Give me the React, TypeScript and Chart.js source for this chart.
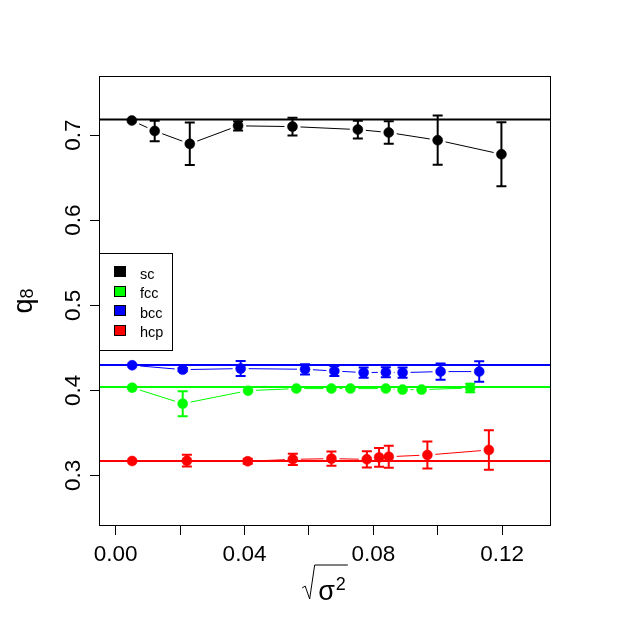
import { useEffect, useRef } from "react";
import { Chart, registerables } from "chart.js";

Chart.register(...registerables);

// ---------- data ----------
const seriesNames = ["sc", "fcc", "bcc", "hcp"];
const seriesColors = ["#000000", "#00FF00", "#0000FF", "#FF0000"];

const scX = [0.005, 0.0121, 0.023, 0.038, 0.0549, 0.0752, 0.0848, 0.1, 0.1198];
const scY = [0.7172, 0.705, 0.6898, 0.711, 0.7101, 0.7066, 0.7031, 0.6941, 0.6776];
const scErr = [0, 0.012, 0.025, 0.0055, 0.0104, 0.0104, 0.0133, 0.029, 0.0376];

const fccX = [0.0051, 0.0208, 0.0411, 0.0561, 0.067, 0.0729, 0.0839, 0.0891, 0.095, 0.1101];
const fccY = [0.4031, 0.3843, 0.3996, 0.402, 0.402, 0.402, 0.402, 0.4008, 0.4008, 0.4027];
const fccErr = [0, 0.0147, 0, 0, 0, 0, 0, 0, 0, 0.005];

const bccX = [0.0051, 0.0208, 0.0388, 0.0588, 0.0679, 0.077, 0.0839, 0.0891, 0.1009, 0.1129];
const bccY = [0.4294, 0.4243, 0.4255, 0.4247, 0.4227, 0.4208, 0.4212, 0.4208, 0.422, 0.422];
const bccErr = [0, 0.002, 0.0088, 0.006, 0.006, 0.006, 0.006, 0.006, 0.0096, 0.012];

const hcpX = [0.0051, 0.0221, 0.041, 0.055, 0.067, 0.078, 0.0818, 0.0848, 0.0968, 0.1159];
const hcpY = [0.3168, 0.3172, 0.3165, 0.3188, 0.3196, 0.3188, 0.3211, 0.3219, 0.3239, 0.3298];
const hcpErr = [0, 0.0069, 0.003, 0.0066, 0.0084, 0.0096, 0.011, 0.0129, 0.0159, 0.0233];

const referenceLevels = [0.7184, 0.4039, 0.4298, 0.3168];

const xLimits = [0, 0.13];
const yLimits = [0.26, 0.75];
const xTickValues = [0, 0.02, 0.04, 0.06, 0.08, 0.1, 0.12];
const xTickLabels = ["0.00", "", "0.04", "", "0.08", "", "0.12"];
const yTickValues = [0.3, 0.4, 0.5, 0.6, 0.7];
const yTickLabels = ["0.3", "0.4", "0.5", "0.6", "0.7"];

const allX = [scX, fccX, bccX, hcpX];
const allY = [scY, fccY, bccY, hcpY];
const allErr = [scErr, fccErr, bccErr, hcpErr];

const FONT = "'Liberation Sans', Arial, Helvetica, sans-serif";

function extend(lim: number[]) {
  const r = lim[1] - lim[0];
  return [lim[0] - 0.04 * r, lim[1] + 0.04 * r];
}

const rPlotPlugin = {
  id: "rPlot",
  beforeDraw(chart: any) {
    const ctx = chart.ctx;
    ctx.save();
    ctx.fillStyle = "#ffffff";
    ctx.fillRect(0, 0, chart.width, chart.height);
    ctx.restore();
  },
  beforeDatasetsDraw(chart: any) {
    const ctx = chart.ctx;
    const area = chart.chartArea;
    const ys = chart.scales.y;
    ctx.save();
    ctx.beginPath();
    ctx.rect(area.left, area.top, area.right - area.left, area.bottom - area.top);
    ctx.clip();
    // reference levels (abline)
    referenceLevels.forEach((lvl, i) => {
      const py = ys.getPixelForValue(lvl);
      ctx.strokeStyle = seriesColors[i];
      ctx.lineWidth = 2;
      ctx.beginPath();
      ctx.moveTo(area.left, py);
      ctx.lineTo(area.right, py);
      ctx.stroke();
    });
    // type = "b" connecting lines with gaps
    const gap = 8;
    chart.data.datasets.forEach((ds: any, i: number) => {
      const meta = chart.getDatasetMeta(i);
      const pts = meta.data;
      ctx.strokeStyle = seriesColors[i];
      ctx.lineWidth = 1;
      for (let j = 0; j < pts.length - 1; j++) {
        const a = pts[j];
        const b = pts[j + 1];
        const dx = b.x - a.x;
        const dy = b.y - a.y;
        const d = Math.hypot(dx, dy);
        if (d <= 2 * gap) continue;
        const ux = dx / d;
        const uy = dy / d;
        ctx.beginPath();
        ctx.moveTo(a.x + ux * gap, a.y + uy * gap);
        ctx.lineTo(b.x - ux * gap, b.y - uy * gap);
        ctx.stroke();
      }
    });
    ctx.restore();
  },
  afterDatasetsDraw(chart: any) {
    const ctx = chart.ctx;
    const xs = chart.scales.x;
    const ys = chart.scales.y;
    ctx.save();
    ctx.lineWidth = 2;
    allErr.forEach((errs, i) => {
      ctx.strokeStyle = seriesColors[i];
      errs.forEach((e, j) => {
        const px = xs.getPixelForValue(allX[i][j]);
        const top = ys.getPixelForValue(allY[i][j] + e);
        const bot = ys.getPixelForValue(allY[i][j] - e);
        if (Math.abs(bot - top) < 1) return;
        const cap = 5;
        ctx.beginPath();
        ctx.moveTo(px, top);
        ctx.lineTo(px, bot);
        ctx.moveTo(px - cap, top);
        ctx.lineTo(px + cap, top);
        ctx.moveTo(px - cap, bot);
        ctx.lineTo(px + cap, bot);
        ctx.stroke();
      });
    });
    ctx.restore();
  },
  afterDraw(chart: any) {
    const ctx = chart.ctx;
    const area = chart.chartArea;
    const xs = chart.scales.x;
    const ys = chart.scales.y;
    ctx.save();
    // box
    ctx.strokeStyle = "#000";
    ctx.lineWidth = 1;
    ctx.strokeRect(Math.round(area.left) + 0.5, Math.round(area.top) + 0.5,
      Math.round(area.right - area.left) - 1, Math.round(area.bottom - area.top) - 1);

    // x tick labels
    ctx.fillStyle = "#000";
    ctx.font = `22.5px ${FONT}`;
    ctx.textAlign = "center";
    ctx.textBaseline = "alphabetic";
    xTickValues.forEach((v, k) => {
      const lab = xTickLabels[k];
      if (!lab) return;
      ctx.fillText(lab, xs.getPixelForValue(v), area.bottom + 35);
    });
    // y tick labels (rotated)
    yTickValues.forEach((v, k) => {
      const py = ys.getPixelForValue(v);
      ctx.save();
      ctx.translate(area.left - 19, py);
      ctx.rotate(-Math.PI / 2);
      ctx.textAlign = "center";
      ctx.fillText(yTickLabels[k], 0, 0);
      ctx.restore();
    });

    // y title q_8
    const cy = (area.top + area.bottom) / 2;
    ctx.save();
    ctx.font = `27px ${FONT}`;
    const wq = ctx.measureText("q").width;
    ctx.font = `18px ${FONT}`;
    const w8 = ctx.measureText("8").width;
    ctx.translate(32, cy + (wq + w8) / 2);
    ctx.rotate(-Math.PI / 2);
    ctx.textAlign = "left";
    ctx.font = `27px ${FONT}`;
    ctx.fillText("q", 0, 0);
    ctx.font = `18px ${FONT}`;
    ctx.fillText("8", wq, 1);
    ctx.restore();

    // x title sqrt(sigma^2)
    const cx = (area.left + area.right) / 2;
    const base = area.bottom + 74;
    ctx.font = `27px ${FONT}`;
    const ws = ctx.measureText("σ").width;
    ctx.font = `18px ${FONT}`;
    const w2 = ctx.measureText("2").width;
    const radW = 16;
    const total = radW + ws + w2 + 3;
    const sx = cx - total / 2;
    ctx.beginPath();
    ctx.lineWidth = 1;
    ctx.moveTo(sx, base - 12);
    ctx.lineTo(sx + 3, base - 14);
    ctx.lineTo(sx + 7.5, base - 1);
    ctx.lineTo(sx + 12.5, base - 35);
    ctx.lineTo(sx + total, base - 35);
    ctx.stroke();
    ctx.textAlign = "left";
    ctx.font = `27px ${FONT}`;
    ctx.fillText("σ", sx + radW, base);
    ctx.font = `18px ${FONT}`;
    ctx.fillText("2", sx + radW + ws + 1, base - 10);

    // legend ("left")
    const lw = 73;
    const rowH = 19.4;
    const lh = rowH * (seriesNames.length + 1);
    const lx = area.left;
    const ly = cy - lh / 2;
    ctx.strokeStyle = "#000";
    ctx.lineWidth = 1;
    ctx.strokeRect(Math.round(lx) + 0.5, Math.round(ly) + 0.5, lw, Math.round(lh));
    ctx.font = `14.5px ${FONT}`;
    seriesNames.forEach((name, i) => {
      const rc = ly + rowH * (i + 1);
      ctx.fillStyle = seriesColors[i];
      const sqx = Math.round(lx + 15) + 0.5;
      const sqy = Math.round(rc - 5.5) + 0.5;
      ctx.fillRect(sqx, sqy, 11, 10);
      ctx.strokeStyle = "#000";
      ctx.strokeRect(sqx, sqy, 11, 10);
      ctx.fillStyle = "#000";
      ctx.fillText(name, lx + 41, rc + 7);
    });
    ctx.restore();
  },
};

export default function App() {
  const ref = useRef<HTMLCanvasElement | null>(null);
  useEffect(() => {
    if (!ref.current) return;
    const xr = extend(xLimits);
    const yr = extend(yLimits);
    const datasets = seriesNames.map((name, i) => ({
      label: name,
      data: allX[i].map((x, j) => ({ x, y: allY[i][j] })),
      backgroundColor: seriesColors[i],
      borderColor: seriesColors[i],
      pointRadius: 5,
      pointHoverRadius: 5,
      pointBorderWidth: 0.5,
      showLine: false,
    }));
    const axisCommon = {
      type: "linear" as const,
      grid: {
        display: true,
        drawOnChartArea: false,
        drawTicks: true,
        tickLength: 9,
        color: "#000",
        lineWidth: 1,
      },
      border: { display: false },
      ticks: {
        autoSkip: false,
        color: "rgba(0,0,0,0)",
        font: { size: 1 },
        callback: () => "",
      },
    };
    const chart = new Chart(ref.current, {
      type: "scatter",
      data: { datasets },
      plugins: [rPlotPlugin],
      options: {
        animation: false,
        responsive: false,
        devicePixelRatio: 1,
        events: [],
        layout: { padding: { left: 0, top: 76, right: 76, bottom: 0 } },
        plugins: { legend: { display: false }, tooltip: { enabled: false } },
        scales: {
          x: {
            ...axisCommon,
            position: "bottom",
            min: xr[0],
            max: xr[1],
            afterBuildTicks: (s: any) => {
              s.ticks = xTickValues.map((v) => ({ value: v }));
            },
            afterFit: (s: any) => {
              s.height = 100;
            },
          },
          y: {
            ...axisCommon,
            position: "left",
            min: yr[0],
            max: yr[1],
            afterBuildTicks: (s: any) => {
              s.ticks = yTickValues.map((v) => ({ value: v }));
            },
            afterFit: (s: any) => {
              s.width = 99;
            },
          },
        },
      } as any,
    });
    return () => chart.destroy();
  }, []);
  return (
    <div style={{ position: "absolute", left: 0, top: 0, width: 627, height: 626, background: "#fff" }}>
      <canvas ref={ref} width={627} height={626} style={{ display: "block" }} />
    </div>
  );
}
